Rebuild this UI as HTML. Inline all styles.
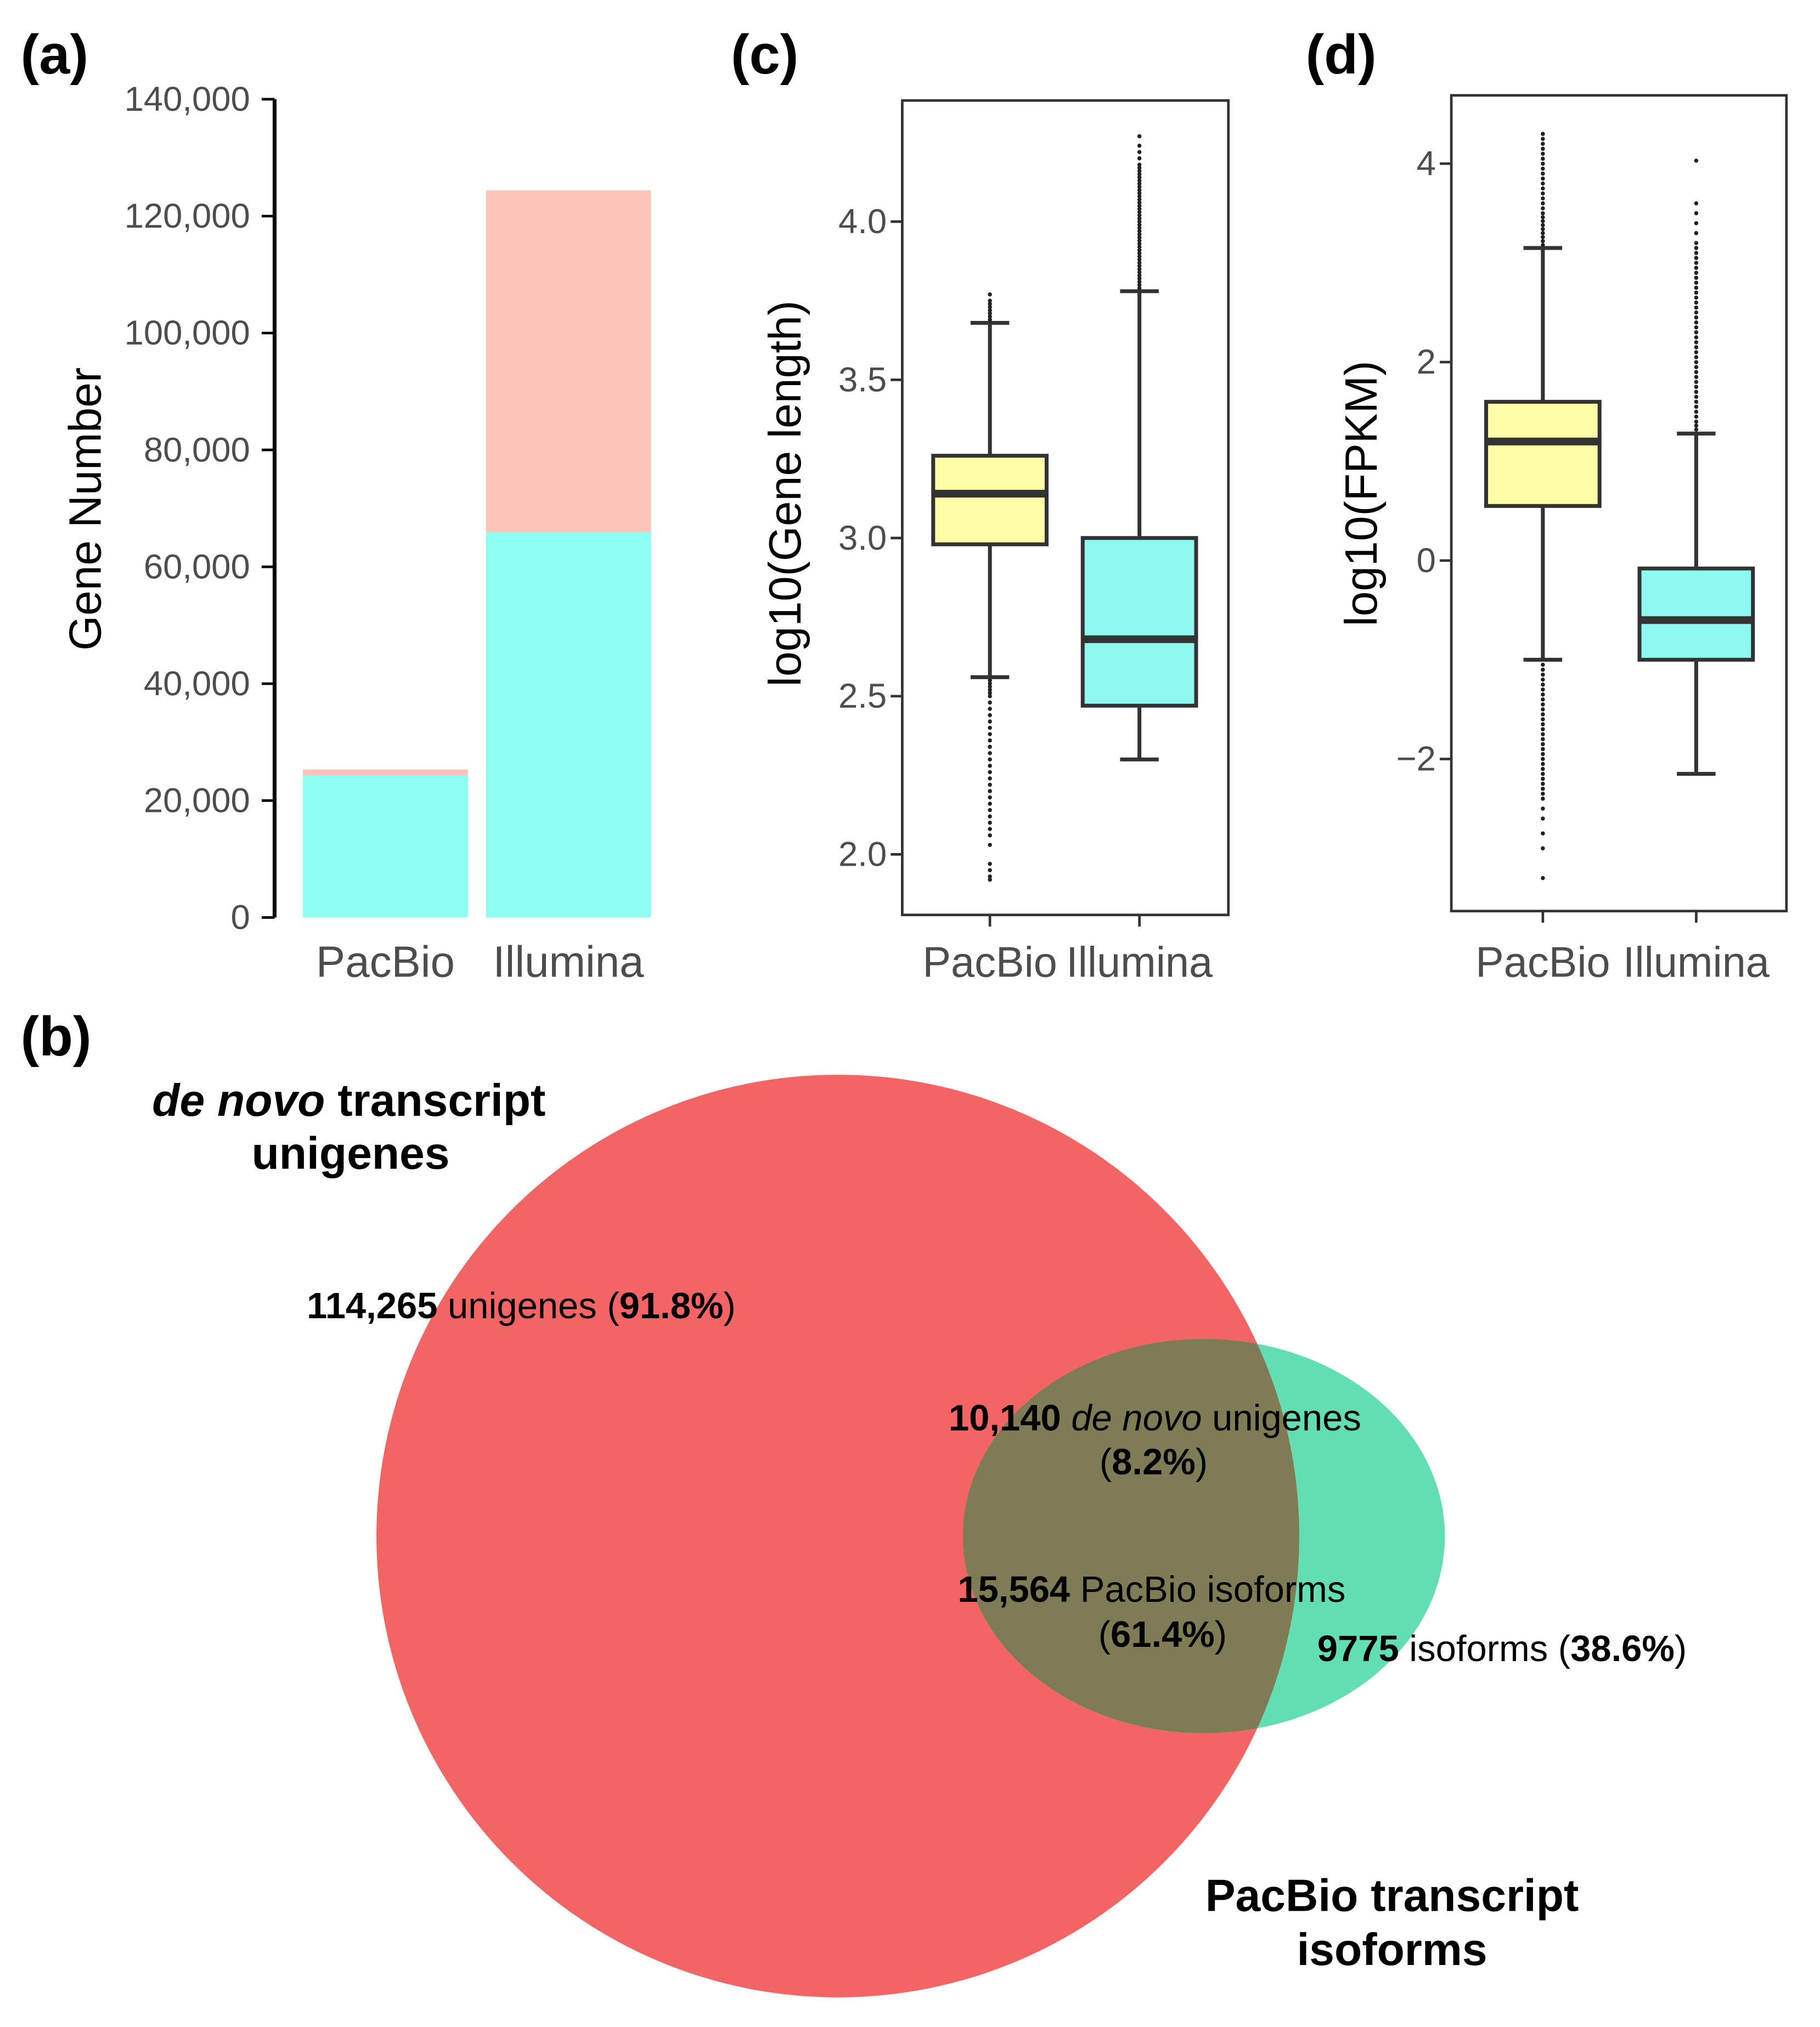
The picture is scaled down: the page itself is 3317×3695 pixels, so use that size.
<!DOCTYPE html>
<html><head><meta charset="utf-8"><style>
html,body{margin:0;padding:0;background:#fff}
svg{display:block}
text{font-family:"Liberation Sans",Arial,sans-serif}
</style></head><body>
<svg id="fig" width="3317" height="3695" viewBox="0 0 1412 1573" xmlns="http://www.w3.org/2000/svg">
<defs><clipPath id="redclip"><circle cx="650" cy="1192" r="358"/></clipPath></defs>
<g id="pa"></g>
<g id="pc"></g>
<g id="pd"></g>
<g font-weight="bold" font-size="43">
<text x="16" y="57">(a)</text>
<text x="567" y="57">(c)</text>
<text x="1013" y="57">(d)</text>
<text x="16" y="819">(b)</text>
</g>
<g>
<circle cx="650" cy="1192" r="358" fill="#f36464"/>
<ellipse cx="934" cy="1192" rx="187" ry="153" fill="#63deb2"/>
<ellipse cx="934" cy="1192" rx="187" ry="153" fill="#7e7c55" clip-path="url(#redclip)"/>
<text x="118" y="866" font-size="35" font-weight="bold"><tspan font-style="italic">de novo</tspan> transcript</text>
<text x="272" y="907" font-size="35" font-weight="bold" text-anchor="middle">unigenes</text>
<text x="238" y="1023" font-size="28.5"><tspan font-weight="bold">114,265</tspan> unigenes (<tspan font-weight="bold">91.8%</tspan>)</text>
<text x="736" y="1110" font-size="28.5"><tspan font-weight="bold">10,140</tspan> <tspan font-style="italic">de novo</tspan> unigenes</text>
<text x="895" y="1144" font-size="28.5" text-anchor="middle">(<tspan font-weight="bold">8.2%</tspan>)</text>
<text x="743" y="1243" font-size="28.5"><tspan font-weight="bold">15,564</tspan> PacBio isoforms</text>
<text x="902" y="1278" font-size="28.5" text-anchor="middle">(<tspan font-weight="bold">61.4%</tspan>)</text>
<text x="1022" y="1289" font-size="28.5"><tspan font-weight="bold">9775</tspan> isoforms (<tspan font-weight="bold">38.6%</tspan>)</text>
<text x="1080" y="1483" font-size="35" font-weight="bold" text-anchor="middle">PacBio transcript</text>
<text x="1080" y="1525" font-size="35" font-weight="bold" text-anchor="middle">isoforms</text>
</g>
</svg>
<script>
// ---- data ----
var barCats = ["PacBio","Illumina"];
var barCyan = [24300, 65900];
var barTotal = [25339, 124405];
var barTicks = [0,20000,40000,60000,80000,100000,120000,140000];

var boxCats = ["PacBio","Illumina"];
var lenQ1 = [2.98, 2.47];
var lenMed = [3.14, 2.68];
var lenQ3 = [3.26, 3.00];
var lenLo = [2.56, 2.30];
var lenHi = [3.68, 3.78];
var lenOutPac = [3.69,3.70,3.71,3.72,3.73,3.74,3.75,3.77,2.55,2.54,2.53,2.52,2.51,2.50,2.48,2.46,2.44,2.42,2.40,2.38,2.36,2.34,2.32,2.30,2.28,2.26,2.24,2.22,2.20,2.18,2.16,2.14,2.12,2.10,2.08,2.06,2.03,1.97,1.95,1.93,1.92];
var lenOutIll = [3.79,3.80,3.81,3.82,3.83,3.84,3.85,3.86,3.87,3.88,3.89,3.90,3.91,3.92,3.93,3.94,3.95,3.96,3.97,3.98,3.99,4.00,4.01,4.02,4.03,4.04,4.05,4.06,4.07,4.08,4.09,4.10,4.11,4.12,4.13,4.14,4.15,4.16,4.17,4.18,4.20,4.22,4.24,4.27];
var lenTicks = [2.0,2.5,3.0,3.5,4.0];

var fpkmQ1 = [0.55, -1.0];
var fpkmMed = [1.2, -0.6];
var fpkmQ3 = [1.6, -0.08];
var fpkmLo = [-1.0, -2.15];
var fpkmHi = [3.15, 1.28];
var fpkmOutPac = [3.18,3.22,3.26,3.30,3.34,3.38,3.42,3.46,3.50,3.55,3.60,3.65,3.70,3.75,3.80,3.85,3.90,3.95,4.00,4.05,4.10,4.15,4.20,4.25,4.30,-1.05,-1.1,-1.15,-1.2,-1.25,-1.3,-1.35,-1.4,-1.45,-1.5,-1.55,-1.6,-1.65,-1.7,-1.75,-1.8,-1.85,-1.9,-1.95,-2.0,-2.05,-2.1,-2.15,-2.2,-2.25,-2.3,-2.35,-2.4,-2.5,-2.6,-2.75,-2.9,-3.2];
var fpkmOutIll = [1.32,1.36,1.40,1.45,1.50,1.55,1.60,1.65,1.70,1.75,1.80,1.85,1.90,1.95,2.00,2.05,2.10,2.15,2.20,2.25,2.30,2.35,2.40,2.45,2.50,2.55,2.60,2.65,2.70,2.75,2.80,2.85,2.90,2.95,3.00,3.05,3.10,3.15,3.20,3.30,3.40,3.50,3.60,4.03];
var fpkmTicks = [-2,0,2,4];

var NS="http://www.w3.org/2000/svg";
function mk(p,tag,a){var e=document.createElementNS(NS,tag);for(var k in a)e.setAttribute(k,a[k]);p.appendChild(e);return e;}

// ---- panel a ----
(function(){
var g=document.getElementById('pa');
function y(v){return 712-v/140000*635;}
var xs=[299,441],bw=128;
mk(g,'line',{x1:213,y1:77,x2:213,y2:712,stroke:'#000','stroke-width':3});
barTicks.forEach(function(t){
 var l=mk(g,'line',{x1:203,x2:213,y1:y(t),y2:y(t),stroke:'#000','stroke-width':2});
 
 
 var tx=mk(g,'text',{x:194,y:y(t)+9,'font-size':27,fill:'#4d4d4d','text-anchor':'end'});
 tx.textContent=t===0?'0':t.toLocaleString('en-US');
 
 
});
barCats.forEach(function(c,i){
 var r1=mk(g,'rect',{x:xs[i]-bw/2,y:y(barTotal[i]),width:bw,height:y(barCyan[i])-y(barTotal[i]),fill:'#fcc5ba'});
 
 
 var r2=mk(g,'rect',{x:xs[i]-bw/2,y:y(barCyan[i]),width:bw,height:712-y(barCyan[i]),fill:'#8efdf2'});
 
 
 var tx=mk(g,'text',{x:xs[i],y:758,'font-size':34,fill:'#4d4d4d','text-anchor':'middle'});
 tx.textContent=c;
 
 
});
var t=mk(g,'text',{x:0,y:0,'font-size':35,'text-anchor':'middle',transform:'translate(78,395) rotate(-90)'});
t.textContent='Gene Number';


})();

// ---- box panels ----
function boxPanel(id,L,R,T,B,v0,y0,v1,y1,ticks,q1,med,q3,lo,hi,outs,xs,title,titleX,fmt){
 var g=document.getElementById(id);
 function y(v){return y0+(v-v0)*(y1-y0)/(v1-v0);}
 mk(g,'rect',{x:L,y:T,width:R-L,height:B-T,fill:'none',stroke:'#333','stroke-width':2});
 ticks.forEach(function(t){
  var l=mk(g,'line',{x1:L-9,x2:L,y1:y(t),y2:y(t),stroke:'#333','stroke-width':2});
  
  
  var tx=mk(g,'text',{x:L-12,y:y(t)+9,'font-size':27,fill:'#4d4d4d','text-anchor':'end'});
  tx.textContent=fmt(t);
  
  
 });
 var fills=['#fdfda6','#8df9f1'];
 boxCats.forEach(function(c,i){
  var x=xs[i],hw=44;
  var w=mk(g,'line',{x1:x,x2:x,y1:y(lo[i]),y2:y(hi[i]),stroke:'#333','stroke-width':3});
  
  
  [lo[i],hi[i]].forEach(function(v){
   var cap=mk(g,'line',{x1:x-15,x2:x+15,y1:y(v),y2:y(v),stroke:'#333','stroke-width':3});
   
   
  });
  var b=mk(g,'rect',{x:x-hw,y:y(q3[i]),width:2*hw,height:y(q1[i])-y(q3[i]),fill:fills[i],stroke:'#333','stroke-width':3});
  
  
  var m=mk(g,'line',{x1:x-hw,x2:x+hw,y1:y(med[i]),y2:y(med[i]),stroke:'#333','stroke-width':6});
  
  
  outs[i].forEach(function(v){
   var d=mk(g,'circle',{cx:x,cy:y(v),r:1.6,fill:'#222'});
   
   
  });
  var tk=mk(g,'line',{x1:x,x2:x,y1:B,y2:B+9,stroke:'#333','stroke-width':2});
  
  
  var tx=mk(g,'text',{x:x,y:758,'font-size':33,fill:'#4d4d4d','text-anchor':'middle'});
  tx.textContent=c;
  
  
 });
 var t=mk(g,'text',{x:0,y:0,'font-size':35,'text-anchor':'middle',transform:'translate('+titleX+',383) rotate(-90)'});
 t.textContent=title;
 
 
}
boxPanel('pc',700,953,78,710,2.0,663,4.0,172,lenTicks,lenQ1,lenMed,lenQ3,lenLo,lenHi,[lenOutPac,lenOutIll],[768,884],'log10(Gene length)',621,function(t){return t.toFixed(1);});
boxPanel('pd',1126,1386,74,707,-2,589,4,127,fpkmTicks,fpkmQ1,fpkmMed,fpkmQ3,fpkmLo,fpkmHi,[fpkmOutPac,fpkmOutIll],[1197,1316],'log10(FPKM)',1068,function(t){return t<0?'\u2212'+(-t):String(t);});
</script>
</body></html>
